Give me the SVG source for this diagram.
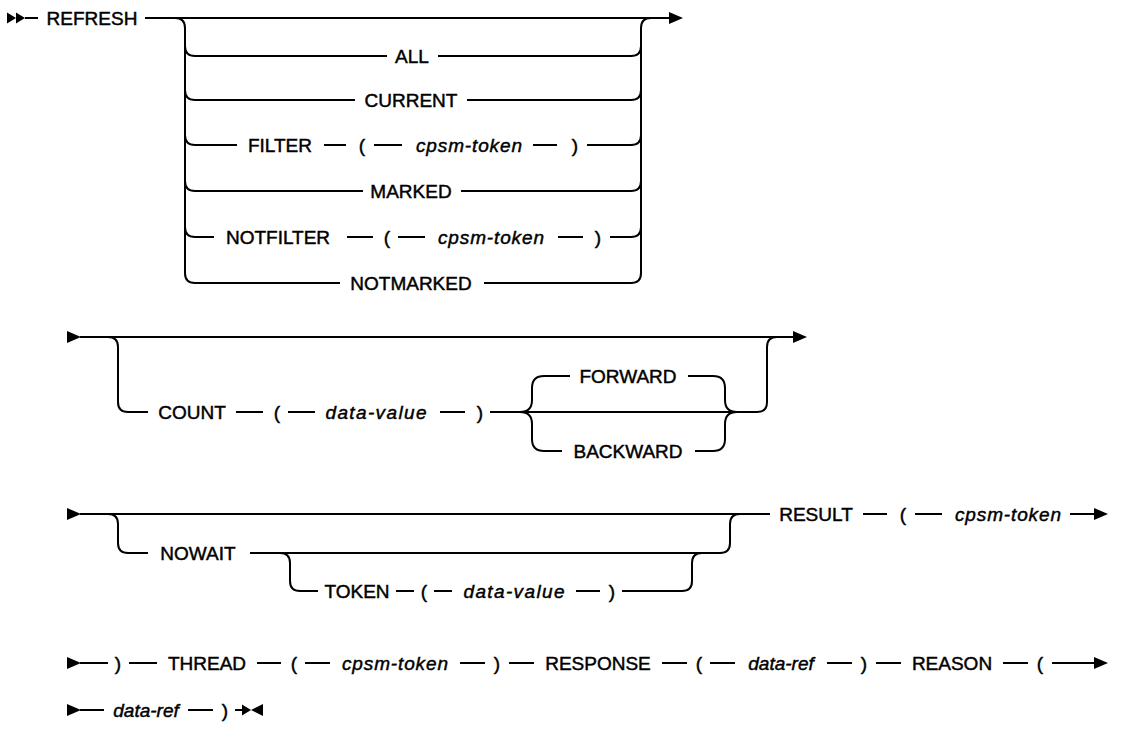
<svg xmlns="http://www.w3.org/2000/svg" width="1122" height="738" viewBox="0 0 1122 738">
<defs>
<style>
.c{fill:none;stroke:#000;stroke-width:2}
.t{font-family:"Liberation Sans",Arial,sans-serif;font-size:19px;fill:#000;stroke:#000;stroke-width:0.45;text-anchor:middle}
.v{font-style:italic}
.a{fill:#000;stroke:none}
</style>
<path id="ah" d="M0,-6 L14,0 L0,6 Z"/>
<path id="ahs" d="M0,-5.5 L9,0 L0,5.5 Z"/>
<path id="ahl" d="M0,-6 L-12,0 L0,6 Z"/>
</defs>
<rect width="1122" height="738" fill="#fff"/>
<g id="connectors">
<!-- row 1 -->
<use href="#ahs" class="a" x="7" y="18"/>
<use href="#ahs" class="a" x="16" y="18"/>
<path class="c" d="M25,18 H38 M145,18 H669"/>
<use href="#ah" class="a" x="669" y="18"/>
<path class="c" d="M175,18 Q185,18 185,28 V273 Q185,283 195,283 M185,46 Q185,56 195,56 M185,90 Q185,100 195,100 M185,135 Q185,145 195,145 M185,181 Q185,191 195,191 M185,227 Q185,237 195,237"/>
<path class="c" d="M631,283 Q641,283 641,273 V28 Q641,18 651,18 M631,56 Q641,56 641,46 M631,100 Q641,100 641,90 M631,145 Q641,145 641,135 M631,191 Q641,191 641,181 M631,237 Q641,237 641,227"/>
<path class="c" d="M195,56 H387 M438,56 H631"/>
<path class="c" d="M195,100 H355 M467,100 H631"/>
<path class="c" d="M195,145 H237 M324,145 H346 M374,145 H402 M533,145 H557 M587,145 H631"/>
<path class="c" d="M195,191 H363 M461,191 H631"/>
<path class="c" d="M195,237 H214 M347,237 H373 M398,237 H425 M558,237 H583 M610,237 H631"/>
<path class="c" d="M195,283 H340 M484,283 H631"/>
<!-- row 2 -->
<use href="#ah" class="a" x="67" y="337"/>
<path class="c" d="M80,337 H793"/>
<use href="#ah" class="a" x="793" y="337"/>
<path class="c" d="M108,337 Q118,337 118,347 V402 Q118,412 128,412 H148 M236,412 H263 M288,412 H315 M440,412 H465 M490,412 H757 Q767,412 767,402 V347 Q767,337 777,337"/>
<path class="c" d="M520,412 Q532,412 532,400 V388 Q532,376 544,376 H570 M688,376 H713 Q725,376 725,388 V400 Q725,412 737,412"/>
<path class="c" d="M520,412 Q532,412 532,424 V439 Q532,451 544,451 H562 M695,451 H713 Q725,451 725,439 V424 Q725,412 737,412"/>
<!-- row 3 -->
<use href="#ah" class="a" x="67" y="514"/>
<path class="c" d="M80,514 H770 M863,514 H887 M915,514 H942 M1070,514 H1094"/>
<use href="#ah" class="a" x="1094" y="514"/>
<path class="c" d="M108,514 Q118,514 118,524 V543 Q118,553 128,553 H148 M250,553 H720 Q730,553 730,543 V524 Q730,514 740,514"/>
<path class="c" d="M280,553 Q290,553 290,563 V581 Q290,591 300,591 H318 M396,591 H414 M434,591 H452 M576,591 H600 M622,591 H682 Q692,591 692,581 V563 Q692,553 702,553"/>
<!-- row 4 -->
<use href="#ah" class="a" x="67" y="663"/>
<path class="c" d="M80,663 H108 M129,663 H157 M257,663 H281 M305,663 H330 M460,663 H485 M509,663 H534 M662,663 H687 M710,663 H735 M827,663 H852 M876,663 H901 M1003,663 H1028 M1052,663 H1094"/>
<use href="#ah" class="a" x="1094" y="663"/>
<!-- row 5 -->
<use href="#ah" class="a" x="67" y="710"/>
<path class="c" d="M80,710 H104 M188,710 H213 M235,710 H242"/>
<use href="#ahs" class="a" x="242" y="710"/>
<use href="#ahl" class="a" x="263" y="710"/>
</g>
<g id="n-refresh"><text class="t" x="92" y="25">REFRESH</text></g>
<g id="n-all"><text class="t" x="412" y="63">ALL</text></g>
<g id="n-current"><text class="t" x="411" y="107">CURRENT</text></g>
<g id="n-filter"><text class="t" x="280" y="152">FILTER</text><text class="t" x="362" y="152">(</text><text class="t v" x="469" y="152" textLength="106">cpsm-token</text><text class="t" x="575" y="152">)</text></g>
<g id="n-marked"><text class="t" x="411" y="198">MARKED</text></g>
<g id="n-notfilter"><text class="t" x="278" y="244">NOTFILTER</text><text class="t" x="387" y="244">(</text><text class="t v" x="491" y="244" textLength="106">cpsm-token</text><text class="t" x="598" y="244">)</text></g>
<g id="n-notmarked"><text class="t" x="411" y="290">NOTMARKED</text></g>
<g id="n-count"><text class="t" x="192" y="419">COUNT</text><text class="t" x="277" y="419">(</text><text class="t v" x="376" y="419" textLength="101">data-value</text><text class="t" x="480" y="419">)</text></g>
<g id="n-forward"><text class="t" x="628" y="383">FORWARD</text></g>
<g id="n-backward"><text class="t" x="628" y="458">BACKWARD</text></g>
<g id="n-nowait"><text class="t" x="198" y="560">NOWAIT</text></g>
<g id="n-token"><text class="t" x="357" y="598">TOKEN</text><text class="t" x="424" y="598">(</text><text class="t v" x="514" y="598" textLength="101">data-value</text><text class="t" x="612" y="598">)</text></g>
<g id="n-result"><text class="t" x="816" y="521">RESULT</text><text class="t" x="903" y="521">(</text><text class="t v" x="1008" y="521" textLength="106">cpsm-token</text></g>
<g id="n-thread"><text class="t" x="118" y="670">)</text><text class="t" x="207" y="670">THREAD</text><text class="t" x="294" y="670">(</text><text class="t v" x="395" y="670" textLength="106">cpsm-token</text><text class="t" x="497" y="670">)</text></g>
<g id="n-response"><text class="t" x="598" y="670">RESPONSE</text><text class="t" x="699" y="670">(</text><text class="t v" x="781" y="670">data-ref</text><text class="t" x="864" y="670">)</text></g>
<g id="n-reason"><text class="t" x="952" y="670">REASON</text><text class="t" x="1040" y="670">(</text></g>
<g id="n-dataref"><text class="t v" x="146" y="717">data-ref</text><text class="t" x="225" y="717">)</text></g>
</svg>
